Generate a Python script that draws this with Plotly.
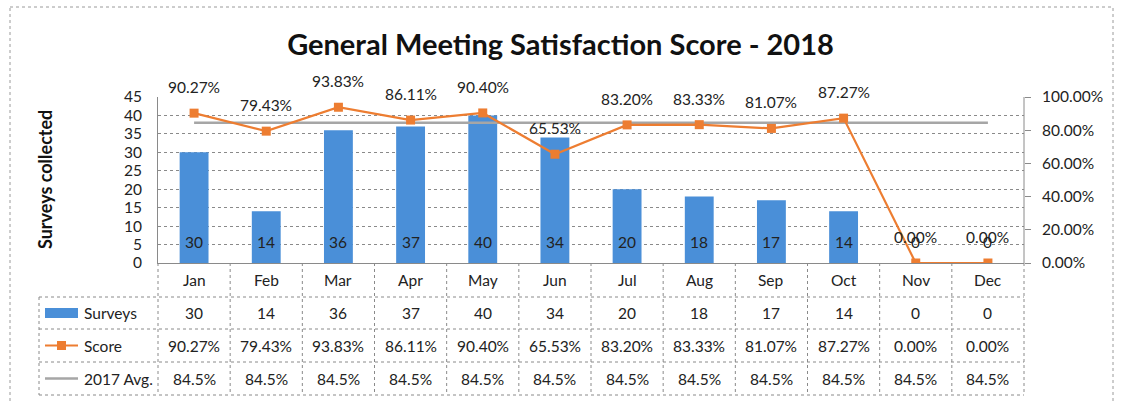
import plotly.graph_objects as go

months = ["Jan", "Feb", "Mar", "Apr", "May", "Jun", "Jul", "Aug", "Sep", "Oct", "Nov", "Dec"]
surveys = [30, 14, 36, 37, 40, 34, 20, 18, 17, 14, 0, 0]
score = [0.9027, 0.7943, 0.9383, 0.8611, 0.9040, 0.6553, 0.8320, 0.8333, 0.8107, 0.8727, 0.0, 0.0]
avg2017 = [0.845] * 12
left_ticks = [0, 5, 10, 15, 20, 25, 30, 35, 40, 45]
right_ticks = [0, 0.2, 0.4, 0.6, 0.8, 1.0]

BLUE = "#4A8FD8"
ORANGE = "#ED7D31"
GRAY = "#A6A6A6"
FONT = "Lato"
GRID = "#8a8a8a"

W, H = 1121, 401
L, R, T, B = 158, 97, 97, 138
PW, PH = W - L - R, H - T - B


def px(xp):
    return (xp - L) / PW


def py(yp):
    return (H - B - yp) / PH


fig = go.Figure()
fig.add_trace(go.Bar(x=months, y=surveys, name="Surveys", marker=dict(color=BLUE, line=dict(width=0)),
                     width=0.4, yaxis="y"))
fig.add_trace(go.Scatter(x=months, y=avg2017, name="2017 Avg.", mode="lines",
                         line=dict(color=GRAY, width=2.5), yaxis="y2"))
fig.add_trace(go.Scatter(x=months, y=score, name="Score", mode="lines+markers",
                         line=dict(color=ORANGE, width=2.2),
                         marker=dict(symbol="square", size=9, color=ORANGE), yaxis="y2"))

annotations = []
# bar labels (inside base)
for m, s in zip(months, surveys):
    annotations.append(dict(x=m, y=0, xref="x", yref="y", yshift=21, text=str(s), showarrow=False,
                            yanchor="middle", font=dict(family=FONT, size=15.5, color="#222")))
# score labels
for m, s in zip(months, score):
    annotations.append(dict(x=m, y=s, xref="x", yref="y2", yshift=26, text=f"{s*100:.2f}%", showarrow=False,
                            yanchor="middle", font=dict(family=FONT, size=15.5, color="#222")))

# data table
row_edges = [263, 297, 329, 362, 395]
shapes = []
line_style = dict(color="#8a8a8a", width=1, dash="dot")
for i in range(13):
    shapes.append(dict(type="line", xref="paper", yref="paper", x0=i / 12, x1=i / 12,
                       y0=py(row_edges[0]), y1=py(row_edges[-1]), line=line_style))
shapes.append(dict(type="line", xref="paper", yref="paper", x0=px(39), x1=px(39),
                   y0=py(row_edges[1]), y1=py(row_edges[-1]), line=line_style))
for ye in row_edges[1:]:
    shapes.append(dict(type="line", xref="paper", yref="paper", x0=px(39), x1=1,
                       y0=py(ye), y1=py(ye), line=line_style))

header_y = py((row_edges[0] + row_edges[1]) / 2)
rows_text = [
    [str(s) for s in surveys],
    [f"{s*100:.2f}%" for s in score],
    [f"{a*100:.1f}%" for a in avg2017],
]
for i, m in enumerate(months):
    annotations.append(dict(x=m, y=header_y, xref="x", yref="paper", text=m, showarrow=False,
                            yanchor="middle", font=dict(family=FONT, size=15.5, color="#222")))
    for r, vals in enumerate(rows_text):
        yc = py((row_edges[r + 1] + row_edges[r + 2]) / 2)
        annotations.append(dict(x=m, y=yc, xref="x", yref="paper", text=vals[i], showarrow=False,
                                yanchor="middle", font=dict(family=FONT, size=15.5, color="#222")))

row_names = ["Surveys", "Score", "2017 Avg."]
for r, name in enumerate(row_names):
    yc_px = (row_edges[r + 1] + row_edges[r + 2]) / 2
    annotations.append(dict(x=px(82), y=py(yc_px), xref="paper", yref="paper", text=name,
                            xanchor="left", yanchor="middle", showarrow=False,
                            font=dict(family=FONT, size=15.5, color="#222")))
# legend keys
k0, k1 = px(45), px(78)
yc = (row_edges[1] + row_edges[2]) / 2
shapes.append(dict(type="rect", xref="paper", yref="paper", x0=k0, x1=k1, y0=py(yc - 5), y1=py(yc + 5),
                   fillcolor=BLUE, line=dict(width=0)))
yc = (row_edges[2] + row_edges[3]) / 2
shapes.append(dict(type="line", xref="paper", yref="paper", x0=k0, x1=k1, y0=py(yc), y1=py(yc),
                   line=dict(color=ORANGE, width=2)))
shapes.append(dict(type="rect", xref="paper", yref="paper", x0=px(57), x1=px(66), y0=py(yc - 4.5), y1=py(yc + 4.5),
                   fillcolor=ORANGE, line=dict(width=0)))
yc = (row_edges[3] + row_edges[4]) / 2
shapes.append(dict(type="line", xref="paper", yref="paper", x0=k0, x1=k1, y0=py(yc), y1=py(yc),
                   line=dict(color=GRAY, width=2.5)))
# right plot edge
shapes.append(dict(type="line", xref="paper", yref="paper", x0=1, x1=1, y0=0, y1=1,
                   line=dict(color="#8a8a8a", width=1)))
# outer chart border
shapes.append(dict(type="rect", xref="paper", yref="paper", x0=px(10), x1=px(1113), y0=py(7), y1=py(403),
                   line=dict(color="#9a9a9a", width=1, dash="dot"), fillcolor="rgba(0,0,0,0)"))

# y axis title
annotations.append(dict(x=px(45), y=0.5, xref="paper", yref="paper", text="<b>Surveys collected</b>",
                        textangle=-90, xanchor="center", yanchor="middle", showarrow=False,
                        font=dict(family=FONT, size=18, color="#111")))

fig.update_layout(
    width=W, height=H,
    margin=dict(l=L, r=R, t=T, b=B, autoexpand=False),
    paper_bgcolor="white", plot_bgcolor="white",
    showlegend=False,
    bargap=0.6,
    title=dict(text="<b>General Meeting Satisfaction Score - 2018</b>", x=0.5, xanchor="center",
               y=1 - 45 / H, yanchor="middle", yref="container",
               font=dict(family=FONT, size=29, color="#111")),
    xaxis=dict(type="category", categoryorder="array", categoryarray=months, range=[-0.5, 11.5],
               showticklabels=False, showgrid=False, showline=True, linecolor="#8a8a8a", linewidth=1,
               ticks="", zeroline=False),
    yaxis=dict(range=[0, 45], tickvals=left_ticks, showgrid=True, gridcolor=GRID, griddash="dot",
               gridwidth=1, showline=True, linecolor="#8a8a8a", zeroline=False, ticks="",
               ticklabelstandoff=12, tickfont=dict(family=FONT, size=15.5, color="#222")),
    yaxis2=dict(range=[0, 1], overlaying="y", side="right", tickvals=right_ticks, tickformat=".2%",
                showgrid=False, zeroline=False, showline=False, ticks="outside", ticklen=6,
                tickcolor="#8a8a8a", ticklabelstandoff=8, tickfont=dict(family=FONT, size=15.5, color="#222")),
    annotations=annotations,
    shapes=shapes,
)

fig.write_html("out.html", config={"displayModeBar": False},
               post_script="document.body.style.margin='0';")
